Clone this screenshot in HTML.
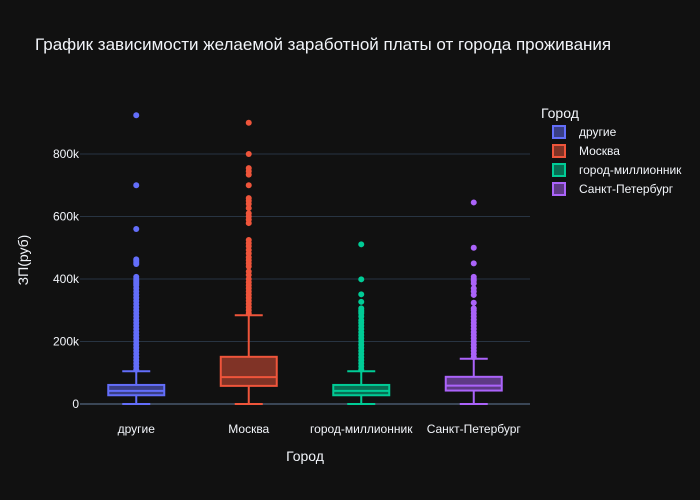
<!DOCTYPE html>
<html><head><meta charset="utf-8"><style>
html,body{margin:0;padding:0;background:#111111;}
svg{display:block;font-family:"Liberation Sans",Arial,sans-serif;}
</style></head><body>
<svg id="chart" width="700" height="500">
<rect width="700" height="500" fill="#111111"/>
<text x="35" y="50" fill="#f2f5fa" font-size="17">График зависимости желаемой заработной платы от города проживания</text>
<g id="grid"></g><g id="marks"></g>
<text x="305" y="461" text-anchor="middle" fill="#f2f5fa" font-size="14">Город</text>
<text transform="translate(28,260) rotate(-90)" text-anchor="middle" fill="#f2f5fa" font-size="14">ЗП(руб)</text>
<text x="541" y="118" fill="#f2f5fa" font-size="14">Город</text>
<g id="legend"></g>
</svg>
<script>
const categories=["другие","Москва","город-миллионник","Санкт-Петербург"];
const colors=["#636efa","#EF553B","#00cc96","#ab63fa"];
const q1=[28,58,28,43];
const medians=[42,86,42,59];
const q3=[61,151,61,87];
const upperFence=[105,284,105,145];
const lowerFence=[0,0,0,0];
const yTicks=[0,200,400,600,800];
const yTickLabels=["0","200k","400k","600k","800k"];
const outliers=[
[924,700,560,463,458,453,448,407,400,395,390,385,380,370,360,350,340,330,320,310,300,290,280,270,260,250,240,230,220,210,200,190,180,170,160,150,140,130,120,110],
[900,800,755,745,734,700,659,650,640,627,610,600,590,579,525,515,505,493,482,470,460,450,440,424,413,400,390,380,370,360,350,340,330,320,310,300,290],
[511,399,351,327,306,300,295,290,280,268,260,250,240,230,220,210,200,190,180,170,160,150,140,130,120,110],
[645,500,450,407,400,395,386,370,360,349,324,306,300,290,280,270,260,250,240,230,220,210,200,190,180,170,160,150]
];
const NS="http://www.w3.org/2000/svg";
const X0=80,X1=530,Y0=404,Y800=154;
function yScale(v){return Y0-(v/800)*(Y0-Y800);}
function xScale(i){return X0+(X1-X0)/categories.length*(i+0.5);}
function mk(tag,attrs,parent){const e=document.createElementNS(NS,tag);for(const k in attrs)e.setAttribute(k,attrs[k]);parent.appendChild(e);return e;}
const grid=document.getElementById('grid'),marks=document.getElementById('marks'),legend=document.getElementById('legend');
yTicks.forEach((t,i)=>{
  const y=yScale(t);
  const l=mk('line',{x1:X0,x2:X1,y1:y,y2:y,stroke:t===0?'#3a4656':'#283442','stroke-width':t===0?2:1},grid);
  
  
  const tx=mk('text',{x:X0-1,y:y+4,'text-anchor':'end',fill:'#f2f5fa','font-size':12},grid);
  tx.textContent=yTickLabels[i];
  
  
});
categories.forEach((c,i)=>{
  const cx=xScale(i),hw=28,col=colors[i];
  const g=mk('g',{},marks);
  
  
  mk('line',{x1:cx,x2:cx,y1:yScale(q3[i]),y2:yScale(upperFence[i]),stroke:col,'stroke-width':2},g);
  mk('line',{x1:cx,x2:cx,y1:yScale(q1[i]),y2:yScale(lowerFence[i]),stroke:col,'stroke-width':2},g);
  mk('line',{x1:cx-14,x2:cx+14,y1:yScale(upperFence[i]),y2:yScale(upperFence[i]),stroke:col,'stroke-width':2},g);
  mk('line',{x1:cx-14,x2:cx+14,y1:yScale(lowerFence[i]),y2:yScale(lowerFence[i]),stroke:col,'stroke-width':2},g);
  mk('rect',{x:cx-hw,y:yScale(q3[i]),width:2*hw,height:yScale(q1[i])-yScale(q3[i]),fill:col,'fill-opacity':0.5,stroke:col,'stroke-width':2},g);
  mk('line',{x1:cx-hw,x2:cx+hw,y1:yScale(medians[i]),y2:yScale(medians[i]),stroke:col,'stroke-width':2},g);
  outliers[i].forEach(v=>{
    const p=mk('circle',{cx:cx,cy:yScale(v),r:3,fill:col},g);
    
    
  });
  const tl=mk('text',{x:cx,y:433,'text-anchor':'middle',fill:'#f2f5fa','font-size':12},grid);
  tl.textContent=c;
  
  
  const ly=132+i*19;
  const le=mk('g',{},legend);
  
  
  mk('rect',{x:553,y:ly-6,width:12,height:12,fill:col,'fill-opacity':0.5,stroke:col,'stroke-width':2},le);
  const lt=mk('text',{x:579,y:ly+4,fill:'#f2f5fa','font-size':12},le);
  lt.textContent=c;
});
</script>
</body></html>
